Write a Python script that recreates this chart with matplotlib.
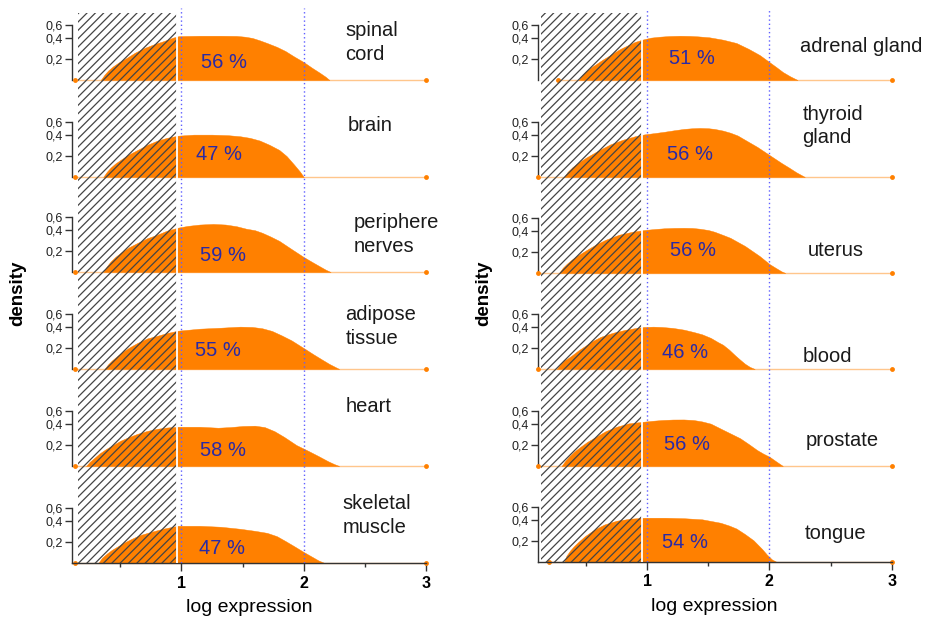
import numpy as np
import matplotlib
matplotlib.use("Agg")
import matplotlib.pyplot as plt
from matplotlib.patches import Rectangle
from matplotlib.transforms import blended_transform_factory

plt.rcParams['font.family'] = ['Liberation Sans', 'DejaVu Sans']
plt.rcParams['hatch.linewidth'] = 0.9

# ---------------------------------------------------------------- data
tissues_left = ["spinal\ncord", "brain", "periphere\nnerves",
                "adipose\ntissue", "heart", "skeletal\nmuscle"]
tissues_right = ["adrenal gland", "thyroid\ngland", "uterus",
                 "blood", "prostate", "tongue"]
pct_left = [56, 47, 59, 55, 58, 47]
pct_right = [51, 56, 56, 46, 56, 54]

# density of log expression per tissue
spinal_cord_x = [0.34, 0.37, 0.40, 0.44, 0.49, 0.55, 0.62, 0.70, 0.78, 0.86, 0.93, 0.98, 1.15, 1.32,
                 1.45, 1.52, 1.58, 1.64, 1.70, 1.78, 1.85, 1.92, 2.00, 2.07, 2.13, 2.18, 2.21]
spinal_cord_y = [0, 0.05, 0.09, 0.13, 0.17, 0.21, 0.26, 0.305, 0.34, 0.37, 0.40, 0.425, 0.431, 0.431,
                 0.428, 0.415, 0.397, 0.375, 0.350, 0.314, 0.275, 0.225, 0.171, 0.115, 0.07, 0.03, 0]
brain_x = [0.36, 0.39, 0.42, 0.46, 0.51, 0.57, 0.64, 0.72, 0.80, 0.88, 0.97, 1.10, 1.25, 1.38,
           1.48, 1.56, 1.64, 1.72, 1.80, 1.86, 1.92, 1.97, 2.00]
brain_y = [0, 0.05, 0.09, 0.13, 0.17, 0.215, 0.257, 0.305, 0.343, 0.37, 0.39, 0.40, 0.40, 0.395,
           0.385, 0.37, 0.345, 0.305, 0.257, 0.20, 0.12, 0.05, 0]
nerves_x = [0.36, 0.39, 0.42, 0.46, 0.51, 0.57, 0.64, 0.72, 0.80, 0.88, 0.97, 1.05, 1.15, 1.26,
            1.36, 1.45, 1.53, 1.60, 1.66, 1.73, 1.80, 1.90, 2.00, 2.07, 2.13, 2.18, 2.22]
nerves_y = [0, 0.055, 0.10, 0.145, 0.19, 0.235, 0.276, 0.32, 0.352, 0.39, 0.431, 0.46, 0.482, 0.492,
            0.482, 0.455, 0.415, 0.395, 0.371, 0.335, 0.295, 0.219, 0.143, 0.095, 0.055, 0.022, 0]
adipose_x = [0.37, 0.40, 0.43, 0.47, 0.52, 0.58, 0.64, 0.72, 0.80, 0.88, 0.97, 1.15, 1.32, 1.48,
             1.58, 1.66, 1.74, 1.82, 1.90, 2.00, 2.08, 2.15, 2.21, 2.26, 2.29]
adipose_y = [0, 0.045, 0.08, 0.12, 0.165, 0.21, 0.248, 0.29, 0.314, 0.34, 0.362, 0.381, 0.390, 0.400,
             0.397, 0.385, 0.360, 0.318, 0.272, 0.200, 0.140, 0.09, 0.048, 0.018, 0]
heart_x = [0.22, 0.25, 0.29, 0.33, 0.38, 0.44, 0.50, 0.57, 0.64, 0.72, 0.80, 0.88, 0.97, 1.15,
           1.30, 1.40, 1.50, 1.60, 1.68, 1.76, 1.84, 1.94, 2.04, 2.12, 2.20, 2.25, 2.29]
heart_y = [0, 0.04, 0.08, 0.12, 0.16, 0.20, 0.24, 0.275, 0.305, 0.332, 0.352, 0.364, 0.371, 0.371,
           0.362, 0.368, 0.378, 0.381, 0.368, 0.33, 0.276, 0.200, 0.143, 0.095, 0.045, 0.018, 0]
muscle_x = [0.32, 0.35, 0.39, 0.43, 0.48, 0.53, 0.59, 0.66, 0.75, 0.85, 0.97, 1.15, 1.32, 1.48,
            1.60, 1.70, 1.78, 1.85, 1.92, 2.00, 2.06, 2.12, 2.17]
muscle_y = [0, 0.05, 0.09, 0.125, 0.16, 0.195, 0.229, 0.265, 0.295, 0.325, 0.352, 0.352, 0.343, 0.324,
            0.305, 0.286, 0.255, 0.21, 0.162, 0.105, 0.065, 0.025, 0]

adrenal_x = [0.44, 0.47, 0.50, 0.54, 0.58, 0.63, 0.68, 0.72, 0.78, 0.85, 0.90, 0.96, 1.03, 1.10,
             1.18, 1.27, 1.35, 1.42, 1.51, 1.62, 1.73, 1.83, 1.92, 2.00, 2.06, 2.11, 2.17, 2.23]
adrenal_y = [0, 0.05, 0.085, 0.12, 0.15, 0.19, 0.225, 0.254, 0.295, 0.333, 0.36, 0.381, 0.40, 0.415,
             0.426, 0.431, 0.428, 0.42, 0.405, 0.381, 0.350, 0.295, 0.238, 0.171, 0.12, 0.076, 0.035, 0]
thyroid_x = [0.32, 0.35, 0.39, 0.44, 0.50, 0.56, 0.61, 0.70, 0.80, 0.90, 0.98, 1.06, 1.14, 1.22,
             1.30, 1.37, 1.43, 1.50, 1.55, 1.62, 1.68, 1.74, 1.80, 1.90, 2.00, 2.10, 2.16, 2.22, 2.29]
thyroid_y = [0, 0.05, 0.095, 0.14, 0.185, 0.225, 0.257, 0.31, 0.352, 0.385, 0.405, 0.425, 0.446, 0.47,
             0.492, 0.503, 0.508, 0.503, 0.492, 0.465, 0.431, 0.392, 0.352, 0.286, 0.210, 0.133, 0.09,
             0.045, 0]
uterus_x = [0.28, 0.31, 0.34, 0.38, 0.42, 0.47, 0.52, 0.58, 0.66, 0.77, 0.88, 0.98, 1.06, 1.14,
            1.22, 1.30, 1.37, 1.43, 1.50, 1.55, 1.62, 1.68, 1.74, 1.80, 1.86, 1.92, 2.00, 2.05, 2.10, 2.13]
uterus_y = [0, 0.05, 0.085, 0.125, 0.159, 0.195, 0.23, 0.27, 0.315, 0.362, 0.39, 0.411, 0.426, 0.438,
            0.444, 0.446, 0.443, 0.431, 0.41, 0.390, 0.36, 0.333, 0.295, 0.257, 0.21, 0.162, 0.086,
            0.05, 0.015, 0]
blood_x = [0.26, 0.29, 0.32, 0.36, 0.39, 0.44, 0.50, 0.55, 0.62, 0.72, 0.82, 0.90, 0.97, 1.05,
           1.12, 1.21, 1.30, 1.38, 1.45, 1.52, 1.58, 1.62, 1.67, 1.72, 1.76, 1.80, 1.84, 1.88]
blood_y = [0, 0.045, 0.08, 0.11, 0.135, 0.18, 0.225, 0.264, 0.305, 0.343, 0.37, 0.386, 0.397, 0.40,
           0.397, 0.388, 0.372, 0.35, 0.328, 0.295, 0.255, 0.231, 0.185, 0.13, 0.089, 0.05, 0.02, 0]
prostate_x = [0.30, 0.33, 0.36, 0.40, 0.45, 0.51, 0.58, 0.66, 0.75, 0.85, 0.97, 1.05, 1.12, 1.21,
              1.30, 1.38, 1.45, 1.52, 1.62, 1.70, 1.76, 1.83, 1.90, 1.95, 2.00, 2.06, 2.11]
prostate_y = [0, 0.05, 0.09, 0.135, 0.18, 0.23, 0.276, 0.33, 0.371, 0.405, 0.431, 0.447, 0.458, 0.466,
              0.467, 0.458, 0.435, 0.400, 0.343, 0.298, 0.264, 0.21, 0.152, 0.118, 0.089, 0.04, 0]
tongue_x = [0.32, 0.34, 0.37, 0.40, 0.44, 0.49, 0.54, 0.58, 0.65, 0.75, 0.86, 0.97, 1.15, 1.30,
            1.45, 1.60, 1.67, 1.73, 1.80, 1.87, 1.94, 1.98, 2.02, 2.06]
tongue_y = [0, 0.06, 0.11, 0.15, 0.195, 0.245, 0.285, 0.314, 0.355, 0.390, 0.415, 0.431, 0.431, 0.423,
            0.405, 0.371, 0.345, 0.317, 0.265, 0.207, 0.124, 0.07, 0.025, 0]

# where each density trace begins (small dot) and ends
trace_start_left = [0.13, 0.13, 0.13, 0.13, 0.13, 0.13]
trace_start_right = [0.27, 0.11, 0.11, 0.11, 0.11, 0.20]
trace_end = 3.0

# low-expression band (hatched) per column
band_left = (0.156, 0.967)
band_right = (0.131, 0.959)

y_ticks = [0.2, 0.4, 0.6]
y_ticklabels = ["0,2", "0,4", "0,6"]
x_ticks = [1, 2, 3]
x_minor = [0.5, 1.5, 2.5]

# ---------------------------------------------------------------- layout
W, H = 925, 619
fig = plt.figure(figsize=(W / 100, H / 100), dpi=100)

col_left = [72, 537.7]
col_width = 354
panel_h = 60
baselines = [[80, 177, 272, 369, 466, 563], [80, 177, 273, 369, 466, 562]]
xlim = (0.105, 3.0)

# compressed density axis
dens_knots = [0.0, 0.2, 0.4, 0.6, 1.0]
axis_knots = [0.0, 21.0, 42.5, 55.0, 81.0]


def fwd(v):
    return np.interp(v, dens_knots, axis_knots)


def inv(v):
    return np.interp(v, axis_knots, dens_knots)


orange = '#FF8000'
pale_orange = '#FFC68C'
pct_color = '#2a2aa6'
axis_color = '#333333'

# text placement in (x data, y axes fraction)
label_pos_left = [(2.34, 0.63), (2.36, 0.86), (2.405, 0.62), (2.34, 0.71), (2.34, 1.0), (2.32, 0.79)]
label_pos_right = [(2.25, 0.55), (2.27, 0.85), (2.31, 0.37), (2.27, 0.20), (2.30, 0.42), (2.29, 0.48)]
pct_pos_left = [(1.35, 0.30), (1.31, 0.38), (1.34, 0.28), (1.30, 0.30), (1.34, 0.25), (1.335, 0.25)]
pct_pos_right = [(1.363, 0.35), (1.347, 0.37), (1.371, 0.38), (1.31, 0.27), (1.326, 0.35), (1.306, 0.32)]

columns = [
    dict(names=tissues_left, pct=pct_left,
         xs=[spinal_cord_x, brain_x, nerves_x, adipose_x, heart_x, muscle_x],
         ys=[spinal_cord_y, brain_y, nerves_y, adipose_y, heart_y, muscle_y],
         start=trace_start_left, band=band_left,
         label_pos=label_pos_left, pct_pos=pct_pos_left),
    dict(names=tissues_right, pct=pct_right,
         xs=[adrenal_x, thyroid_x, uterus_x, blood_x, prostate_x, tongue_x],
         ys=[adrenal_y, thyroid_y, uterus_y, blood_y, prostate_y, tongue_y],
         start=trace_start_right, band=band_right,
         label_pos=label_pos_right, pct_pos=pct_pos_right),
]

for c, col in enumerate(columns):
    for r in range(6):
        base = baselines[c][r]
        ax = fig.add_axes([col_left[c] / W, (H - base) / H, col_width / W, panel_h / H])
        ax.set_yscale('function', functions=(fwd, inv))
        ax.set_xlim(*xlim)
        ax.set_ylim(0, 0.68)
        ax.patch.set_visible(False)

        x = col['xs'][r]
        y = col['ys'][r]
        x0 = col['start'][r]
        ax.plot([x0, trace_end], [0, 0], color=pale_orange, lw=1.0, zorder=1,
                clip_on=False, solid_capstyle='butt')
        ax.fill_between(x, 0, y, color=orange, lw=0.3, edgecolor=orange, zorder=2)
        ax.plot([x0, trace_end], [0, 0], 'o', color=orange, ms=3.5, mew=0,
                zorder=3, clip_on=False)

        for s in ('top', 'right'):
            ax.spines[s].set_visible(False)
        ax.spines['left'].set_bounds(0, 0.6)
        ax.spines['left'].set_color(axis_color)
        ax.spines['left'].set_linewidth(1.0)
        ax.set_yticks(y_ticks)
        ax.set_yticklabels(y_ticklabels)
        ax.yaxis.set_minor_locator(plt.NullLocator())
        ax.tick_params(axis='y', length=5, width=1, color=axis_color,
                       labelsize=9, pad=1.5, labelcolor='#222222')

        tr = blended_transform_factory(ax.transData, ax.transAxes)
        lx, ly = col['label_pos'][r]
        ax.text(lx, ly, col['names'][r], transform=tr, ha='left', va='center',
                fontsize=14.5, color='#1a1a1a', linespacing=1.32)
        px_, py_ = col['pct_pos'][r]
        ax.text(px_, py_, f"{col['pct'][r]} %", transform=tr, ha='center',
                va='center', fontsize=14.5, color=pct_color)

        if r == 5:
            ax.spines['bottom'].set_bounds(xlim[0], 3.0)
            ax.spines['bottom'].set_color(axis_color)
            ax.spines['bottom'].set_linewidth(1.0)
            ax.spines['bottom'].set_zorder(4)
            ax.set_xticks(x_ticks)
            ax.set_xticks(x_minor, minor=True)
            ax.set_xticklabels([str(t) for t in x_ticks], fontweight='bold')
            ax.tick_params(axis='x', which='major', length=6, width=1,
                           color=axis_color, labelsize=11.5, pad=3)
            ax.tick_params(axis='x', which='minor', length=3, width=1,
                           color=axis_color)
            ax.set_xlabel('log expression', fontsize=14, labelpad=6)
        else:
            ax.spines['bottom'].set_visible(False)
            ax.set_xticks([])

    # hatched low-expression band and reference lines over the whole column
    bottom = baselines[c][-1]
    top_px = 8
    ov = fig.add_axes([col_left[c] / W, (H - bottom) / H, col_width / W,
                       (bottom - top_px) / H])
    ov.set_xlim(*xlim)
    ov.set_ylim(0, 1)
    ov.axis('off')
    ov.patch.set_visible(False)
    band_top = (bottom - 13) / (bottom - top_px)
    lo, hi = col['band']
    ov.add_patch(Rectangle((lo, 0), hi - lo, band_top, facecolor='none',
                           edgecolor='#444444', lw=0, hatch='////'))
    ov.plot([hi, hi], [0, band_top], color='white', lw=1.3)
    for xv in (1, 2):
        ov.plot([xv, xv], [0, 1], color='#5e5eff', lw=1.0, ls=(0, (1, 2)))

fig.text(18 / W, 1 - 293 / H, 'density', rotation=90, fontweight='bold',
         fontsize=13.5, ha='center', va='center')
fig.text(484 / W, 1 - 293 / H, 'density', rotation=90, fontweight='bold',
         fontsize=13.5, ha='center', va='center')

fig.savefig('out.png', dpi=100, facecolor='white')
